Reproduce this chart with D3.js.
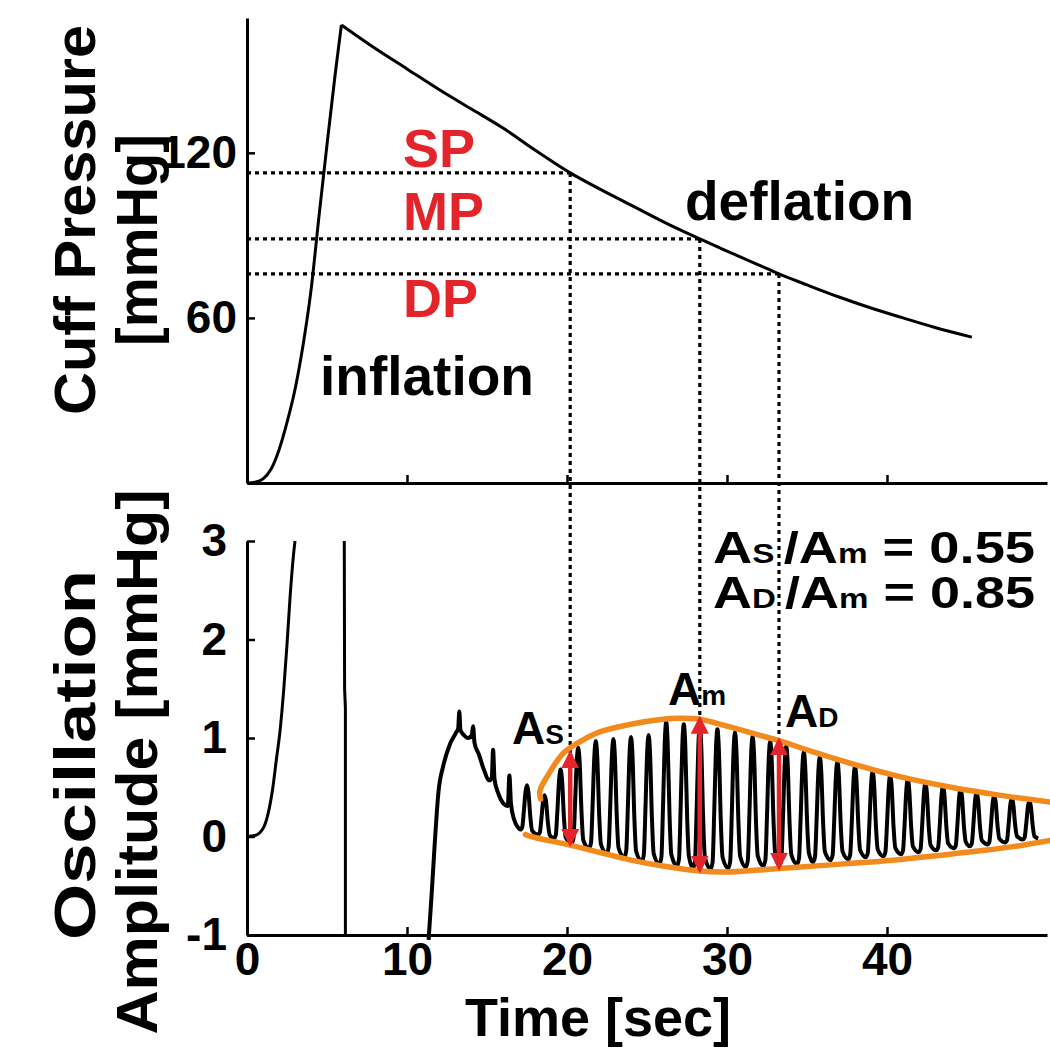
<!DOCTYPE html>
<html><head><meta charset="utf-8">
<script src="https://cdn.jsdelivr.net/npm/d3@7"></script>
<style>
body{margin:0;background:#fff}
svg{display:block}
text{font-family:"Liberation Sans",Arial,Helvetica,sans-serif;font-weight:bold}
</style>
</head><body>
<svg id="chart" width="1050" height="1049"></svg>
<script>
// ---------- DATA ----------
// Cuff pressure (top panel)
const inflationT = [0, 0.5, 1, 1.5, 2, 2.5, 3, 3.5, 4, 4.5, 5, 5.5, 5.9];
const inflationP = [0, 0.3, 1.5, 5, 12, 22, 34, 50, 70, 97, 123, 148, 166.5];
const deflationT = [5.9, 8, 10, 12, 14, 16, 18, 20.2, 22, 24, 26, 28.3, 30, 32, 33.25, 35, 37, 39, 41, 43, 45.3];
const deflationP = [166.5, 158, 150.5, 143, 136, 129, 121, 112.7, 107, 101, 95, 88.7, 84.3, 79.2, 76, 72, 67.6, 63.6, 60, 56.5, 53];

const pressureTicks = [60, 120];
const topTimeTicks = [10, 20, 30, 40];
const timeTicks = [0, 10, 20, 30, 40];
const ampTicks = [-1, 0, 1, 2, 3];

// SP / MP / DP markers
const markerNames = ["SP", "MP", "DP"];
const markerT = [20.2, 28.3, 33.25];
const markerP = [112.7, 88.7, 76];
const markerAmpTop = [0.84, 1.19, 0.97];
const markerAmpBottom = [-0.07, -0.34, -0.31];
const ratioValues = [0.55, 0.85];

// Oscillation amplitude (bottom panel)
const transientT = [0, 0.5, 1.0, 1.3, 1.6, 1.85, 2.05, 2.3, 2.5, 2.7, 2.9, 3.0];
const transientV = [0, 0.01, 0.08, 0.22, 0.48, 0.8, 1.05, 1.5, 1.95, 2.45, 2.85, 3.0];
const releaseT = [6.08, 6.1, 6.15, 6.15];
const releaseV = [3.0, 1.5, 1.3, -1.0];
const recoveryT = [11.35, 11.55, 11.75, 11.96, 12.27, 12.69, 13.05, 13.2, 13.27, 13.34, 13.55, 13.8, 14.05, 14.13, 14.22, 14.5, 14.8, 15.15, 15.3, 15.38, 15.47, 15.7, 16.0, 16.3, 16.4, 16.5, 16.7, 16.95];
const recoveryV = [-1.05, -0.56, -0.03, 0.44, 0.72, 0.94, 1.05, 1.1, 1.27, 1.08, 1.03, 1.0, 1.03, 1.12, 0.95, 0.83, 0.68, 0.57, 0.6, 0.88, 0.58, 0.44, 0.34, 0.31, 0.62, 0.33, 0.17, 0.09];
const beatT = [17.5, 18.6, 19.6, 20.7, 21.8, 22.9, 24.0, 25.1, 26.2, 27.3, 28.3, 29.4, 30.5, 31.6, 32.7, 33.7, 34.8, 35.8, 36.9, 38.0, 39.1, 40.2, 41.3, 42.4, 43.5, 44.6, 45.6, 46.7, 47.8, 48.9];
const beatPeak = [0.52, 0.42, 0.68, 0.9, 0.97, 0.99, 1.01, 1.03, 1.16, 1.14, 1.12, 1.09, 1.06, 1.02, 0.97, 0.92, 0.86, 0.81, 0.76, 0.71, 0.66, 0.62, 0.58, 0.54, 0.51, 0.48, 0.45, 0.42, 0.39, 0.36];
const beatTrough = [0.07, 0.02, -0.02, -0.07, -0.12, -0.17, -0.21, -0.25, -0.28, -0.3, -0.32, -0.33, -0.32, -0.31, -0.3, -0.29, -0.28, -0.26, -0.24, -0.23, -0.21, -0.2, -0.18, -0.16, -0.14, -0.12, -0.1, -0.08, -0.06, -0.03];
const endT = [49.45], endV = [-0.02];

// Envelopes (orange)
const upperEnvT = [18.35, 18.3, 18.8, 19.8, 21, 22, 24, 26, 27, 28.3, 30, 32, 33.3, 35, 38, 41, 44, 47, 50.2];
const upperEnvV = [0.38, 0.46, 0.62, 0.85, 0.98, 1.06, 1.14, 1.19, 1.2, 1.19, 1.12, 1.03, 0.97, 0.88, 0.73, 0.6, 0.5, 0.42, 0.35];
const lowerEnvT = [17.4, 18, 20, 22, 24, 26, 28.3, 30, 32, 34.6, 38, 41, 45, 48, 50.2];
const lowerEnvV = [0.02, -0.01, -0.08, -0.16, -0.24, -0.3, -0.35, -0.36, -0.34, -0.31, -0.27, -0.23, -0.16, -0.1, -0.04];

// ---------- DRAW ----------
const svg = d3.select("#chart");
const RED = "#e3242b", ORANGE = "#f28a1e";

const x = d3.scaleLinear().domain([0, 50]).range([247, 1047]);
const yP = d3.scaleLinear().domain([0, 169]).range([483, 18]);
const yA = d3.scaleLinear().domain([-1, 3]).range([935, 541]);

const zip = (a, b) => a.map((v, i) => [v, b[i]]);

// pulse waveform template (shape only)
const shapeDt = [-0.42, -0.3, -0.2, -0.09, 0, 0.09, 0.21, 0.32];
const shapeFrac = [0.0, 0.05, 0.4, 0.86, 1, 0.86, 0.35, 0.08];
const beatPts = [];
beatT.forEach((t, i) => {
  shapeDt.forEach((dt, k) => {
    const base = dt <= 0 ? beatTrough[i] : (i + 1 < beatTrough.length ? beatTrough[i + 1] : beatTrough[i]);
    beatPts.push([t + dt, base + shapeFrac[k] * (beatPeak[i] - base)]);
  });
});

const lineP = d3.line().x(d => x(d[0])).y(d => yP(d[1])).curve(d3.curveMonotoneX);
const lineA = d3.line().x(d => x(d[0])).y(d => yA(d[1])).curve(d3.curveMonotoneX);
const lineALin = d3.line().x(d => x(d[0])).y(d => yA(d[1]));

// dashed guide lines (behind)
const guides = svg.append("g").attr("stroke", "#000").attr("stroke-width", 3.2).attr("stroke-dasharray", "4,4").attr("fill", "none");
markerT.forEach((t, i) => {
  guides.append("line").attr("x1", x(0)).attr("x2", x(t)).attr("y1", yP(markerP[i])).attr("y2", yP(markerP[i]));
  guides.append("line").attr("x1", x(t)).attr("x2", x(t)).attr("y1", yP(markerP[i])).attr("y2", yA(markerAmpTop[i]));
});

// top panel pressure curve
const pG = svg.append("g").attr("fill", "none").attr("stroke", "#000").attr("stroke-width", 3).attr("stroke-linejoin", "miter");
pG.append("path").attr("d", lineP(zip(inflationT, inflationP)));
pG.append("path").attr("d", lineP(zip(deflationT, deflationP)));

// bottom panel curves
const bcurve = svg.append("g").attr("fill", "none").attr("stroke", "#000").attr("stroke-width", 3).attr("stroke-linejoin", "round");
bcurve.append("path").attr("d", lineA(zip(transientT, transientV)));
bcurve.append("path").attr("d", lineALin(zip(releaseT, releaseV)));
bcurve.append("path").attr("d", lineA(zip(recoveryT, recoveryV).concat(beatPts, zip(endT, endV)))).attr("stroke-width", 4);

// envelopes
const envLine = d3.line().x(d => x(d[0])).y(d => yA(d[1])).curve(d3.curveCatmullRom);
const envG = svg.append("g").attr("fill", "none").attr("stroke", ORANGE).attr("stroke-width", 5.5).attr("stroke-linecap", "round");
envG.append("path").attr("d", envLine(zip(upperEnvT, upperEnvV)));
envG.append("path").attr("d", envLine(zip(lowerEnvT, lowerEnvV)));

// red arrows
const defs = svg.append("defs");
defs.append("marker").attr("id", "ah").attr("viewBox", "0 0 10 10").attr("refX", 8).attr("refY", 5)
  .attr("markerWidth", 4).attr("markerHeight", 4).attr("orient", "auto-start-reverse").attr("markerUnits", "strokeWidth")
  .append("path").attr("d", "M0,0 L10,5 L0,10 Z").attr("fill", RED);
markerT.forEach((t, i) => {
  svg.append("line").attr("x1", x(t)).attr("x2", x(t))
    .attr("y1", yA(markerAmpBottom[i])).attr("y2", yA(markerAmpTop[i]))
    .attr("stroke", RED).attr("stroke-width", 4.5)
    .attr("marker-start", "url(#ah)").attr("marker-end", "url(#ah)");
});

// axes
function styleAxis(g) {
  g.select(".domain").attr("stroke", "#000").attr("stroke-width", 3);
  g.selectAll(".tick line").attr("stroke", "#000").attr("stroke-width", 2.5);
  g.selectAll(".tick text").attr("font-size", 46).attr("font-weight", "bold").attr("fill", "#000")
    .attr("font-family", '"Liberation Sans",Arial,sans-serif');
}
const fmt = d => String(d);
svg.append("g").attr("transform", `translate(${x(0)},0)`)
  .call(d3.axisLeft(yP).tickValues(pressureTicks).tickFormat(fmt).tickSizeInner(-8).tickSizeOuter(0).tickPadding(10))
  .call(styleAxis);
svg.append("g").attr("transform", `translate(0,${yP(0)})`)
  .call(d3.axisBottom(x).tickValues(topTimeTicks).tickSizeInner(-8).tickSizeOuter(0).tickFormat(""))
  .call(styleAxis);
svg.append("g").attr("transform", `translate(${x(0)},0)`)
  .call(d3.axisLeft(yA).tickValues(ampTicks).tickFormat(fmt).tickSizeInner(-8).tickSizeOuter(0).tickPadding(20))
  .call(styleAxis);
svg.append("g").attr("transform", `translate(0,${yA(-1)})`)
  .call(d3.axisBottom(x).tickValues(timeTicks).tickFormat(fmt).tickSizeInner(-8).tickSizeOuter(0).tickPadding(7))
  .call(styleAxis);

// axis titles
function vtitle(txt, cx, cy, len) {
  svg.append("text").attr("transform", `translate(${cx},${cy}) rotate(-90)`)
    .attr("text-anchor", "middle").attr("font-size", 58).attr("fill", "#000")
    .attr("textLength", len).attr("lengthAdjust", "spacingAndGlyphs").text(txt);
}
vtitle("Cuff Pressure", 95, 220, 390);
vtitle("[mmHg]", 157, 240, 212);
vtitle("Oscillation", 95, 755, 370);
vtitle("Amplitude [mmHg]", 157, 762, 545);
svg.append("text").attr("x", 598).attr("y", 1036).attr("text-anchor", "middle").attr("font-size", 54).attr("fill", "#000").text("Time [sec]");

// annotations
const mkY = [167, 230, 317];
markerNames.forEach((n, i) => {
  svg.append("text").attr("x", 403).attr("y", mkY[i]).attr("font-size", 54).attr("fill", RED).text(n);
});
svg.append("text").attr("x", 320).attr("y", 395).attr("font-size", 55).attr("fill", "#000").text("inflation");
svg.append("text").attr("x", 685).attr("y", 220).attr("font-size", 55).attr("fill", "#000").text("deflation");

function aLabel(sub, xx, yy) {
  const t = svg.append("text").attr("x", xx).attr("y", yy).attr("fill", "#000");
  t.append("tspan").attr("font-size", 46).text("A");
  t.append("tspan").attr("font-size", 28).text(sub);
  return t;
}
aLabel("S", 512, 744);
aLabel("m", 668, 705);
aLabel("D", 785, 727);

function ratioLine(sub, val, yy) {
  const t = svg.append("text").attr("x", 713).attr("y", yy).attr("fill", "#000")
    .attr("textLength", 322).attr("lengthAdjust", "spacingAndGlyphs");
  t.append("tspan").attr("font-size", 44).text("A");
  t.append("tspan").attr("font-size", 27).text(sub + " ");
  t.append("tspan").attr("font-size", 44).text("/A");
  t.append("tspan").attr("font-size", 27).text("m");
  t.append("tspan").attr("font-size", 44).text(" = " + val.toFixed(2));
}
ratioLine("S", ratioValues[0], 563);
ratioLine("D", ratioValues[1], 608);
</script>
</body></html>
